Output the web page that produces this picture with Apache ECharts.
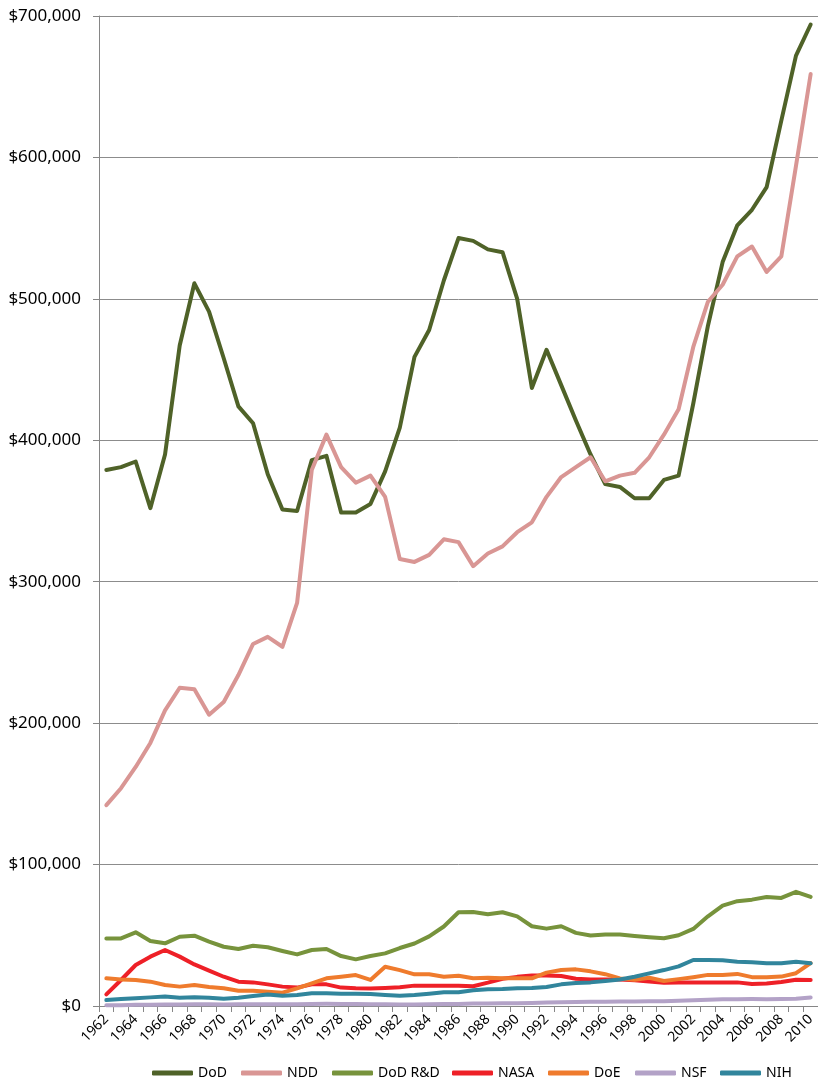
<!DOCTYPE html>
<html>
<head>
<meta charset="utf-8">
<title>Federal R&D spending</title>
<script src="https://cdn.jsdelivr.net/npm/echarts@6/dist/echarts.min.js"></script>
<style>
  html, body { margin: 0; padding: 0; background: #fff; }
  #chart { width: 818px; height: 1077px; }
</style>
</head>
<body>
<div id="chart"></div>
<script>
// years on the x axis
const years = []
for (let y = 1962; y <= 2010; y++) years.push(String(y))

// values in thousands of dollars (1962..2010)
const dod = [
  379, 381, 385, 352, 390, 467, 511, 491, 458, 424,
  412, 376, 351, 350, 386, 389, 349, 349, 355, 378,
  409, 459, 478, 513, 543, 541, 535, 533, 500, 437,
  464, 439, 414, 390, 369, 367, 359, 359, 372, 375,
  426, 481, 526, 552, 563, 579, 626, 672, 694
]
const ndd = [
  142, 154, 169, 186, 209, 225, 224, 206, 215, 234,
  256, 261, 254, 285, 379, 404, 381, 370, 375, 360,
  316, 314, 319, 330, 328, 311, 320, 325, 335, 342,
  360, 374, 381, 388, 371, 375, 377, 388, 404, 422,
  466, 498, 510, 530, 537, 519, 530, 594, 659
]
const dodRD = [
  47.8, 47.8, 52.1, 45.9, 44.3, 49, 49.7, 45.5, 41.9, 40.3,
  42.6, 41.5, 38.9, 36.5, 39.6, 40.3, 35.3, 33, 35.3, 37.2,
  41, 44.2, 49.2, 56.2, 66.3, 66.5, 64.9, 66.3, 63.4, 56.4,
  54.7, 56.4, 51.7, 49.8, 50.5, 50.5, 49.5, 48.6, 47.9, 50,
  54.5, 63.4, 71, 74.1, 75.2, 77.1, 76.4, 80.7, 77.1
]
const nasa = [
  8.2, 18.4, 29, 34.9, 39.6, 34.9, 29.4, 25, 20.7, 17.2,
  16.7, 15.3, 13.7, 13, 15.3, 15.3, 13, 12.5, 12.4, 12.8,
  13.2, 14.4, 14.4, 14.4, 14.4, 14, 16.5, 19.3, 20.6, 21.5,
  21.5, 21.2, 19.3, 18.7, 18.8, 18.7, 18.2, 17.3, 16.5, 16.7,
  16.7, 16.7, 16.7, 16.7, 15.6, 15.9, 17, 18.6, 18.4
]
const doe = [
  19.6, 18.8, 18.4, 17.2, 14.8, 13.7, 14.8, 13.4, 12.5, 10.8,
  10.8, 10.1, 9.4, 12.5, 16, 19.6, 20.7, 21.9, 18.4, 27.8,
  25.4, 22.4, 22.4, 20.7, 21.4, 19.6, 20, 19.6, 19.6, 19.6,
  23.6, 25.4, 25.9, 24.5, 22.5, 19.5, 18.5, 20, 17.7, 19,
  20.4, 22, 22, 22.7, 20.4, 20.3, 20.8, 23.2, 30.3
]
const nsf = [
  0.5, 0.6, 0.8, 0.9, 1.0, 1.1, 1.2, 1.2, 1.1, 1.2,
  1.3, 1.3, 1.2, 1.3, 1.5, 1.6, 1.5, 1.4, 1.3, 1.2,
  1.1, 1.1, 1.3, 1.5, 1.5, 1.7, 1.8, 1.9, 2.0, 2.2,
  2.5, 2.7, 2.8, 3.0, 3.0, 3.1, 3.2, 3.3, 3.4, 3.7,
  4.0, 4.4, 4.7, 4.8, 4.9, 4.8, 4.9, 5.2, 6.0
]
const nih = [
  4.2, 4.9, 5.4, 6.1, 6.8, 5.9, 6.1, 5.9, 5.2, 5.9,
  7.1, 8.2, 7.3, 7.8, 9, 9, 8.7, 8.7, 8.5, 7.8,
  7.3, 7.8, 8.7, 9.7, 9.7, 11.1, 11.8, 12, 12.5, 12.7,
  13.4, 15.3, 16.3, 16.7, 17.7, 18.8, 20.7, 23.1, 25.4, 28,
  32.5, 32.5, 32.3, 31.3, 30.9, 30.2, 30.2, 31.3, 30.2
]

const seriesNames = ['DoD', 'NDD', 'DoD R&D', 'NASA', 'DoE', 'NSF', 'NIH']
const seriesData = [dod, ndd, dodRD, nasa, doe, nsf, nih]
const colors = ['#4f6228', '#d99694', '#77933c', '#ee2027', '#ef7b2d', '#b3a2c7', '#31859c']
// left edge of each legend entry, so they sit where the original ones do
const legendLefts = [147, 236, 327, 447, 543, 630, 715]

const font = 'Noto Sans'
const chart = echarts.init(document.getElementById('chart'))

chart.setOption({
  animation: false,
  color: colors,
  textStyle: { fontFamily: font },
  grid: { left: 99, top: 16, width: 723, height: 990 },
  legend: seriesNames.map((name, i) => ({
    left: legendLefts[i],
    top: 1061,
    icon: 'roundRect',
    itemWidth: 41,
    itemHeight: 5,
    textStyle: { fontSize: 14, color: '#000', fontFamily: font },
    data: [name]
  })),
  xAxis: {
    type: 'category',
    data: years,
    boundaryGap: true,
    axisLine: { lineStyle: { color: '#868686', width: 1 } },
    axisTick: { show: true, interval: 0, length: 6, lineStyle: { color: '#868686' } },
    axisLabel: {
      interval: 1,
      rotate: 45,
      margin: 11,
      fontSize: 14,
      color: '#000',
      fontFamily: font
    }
  },
  yAxis: {
    type: 'value',
    min: 0,
    max: 700,
    interval: 100,
    axisLine: { show: true, lineStyle: { color: '#868686', width: 1 } },
    axisTick: { show: true, length: 6, lineStyle: { color: '#868686' } },
    splitLine: { lineStyle: { color: '#8c8c8c', width: 1 } },
    axisLabel: {
      margin: 18,
      fontSize: 17,
      color: '#000',
      fontFamily: font,
      formatter: v => '$' + (v * 1000).toLocaleString('en-US')
    }
  },
  series: seriesNames.map((name, i) => ({
    name: name,
    type: 'line',
    data: seriesData[i],
    showSymbol: false,
    symbol: 'none',
    lineStyle: { width: 4, cap: 'round', join: 'round' }
  }))
})
</script>
</body>
</html>
